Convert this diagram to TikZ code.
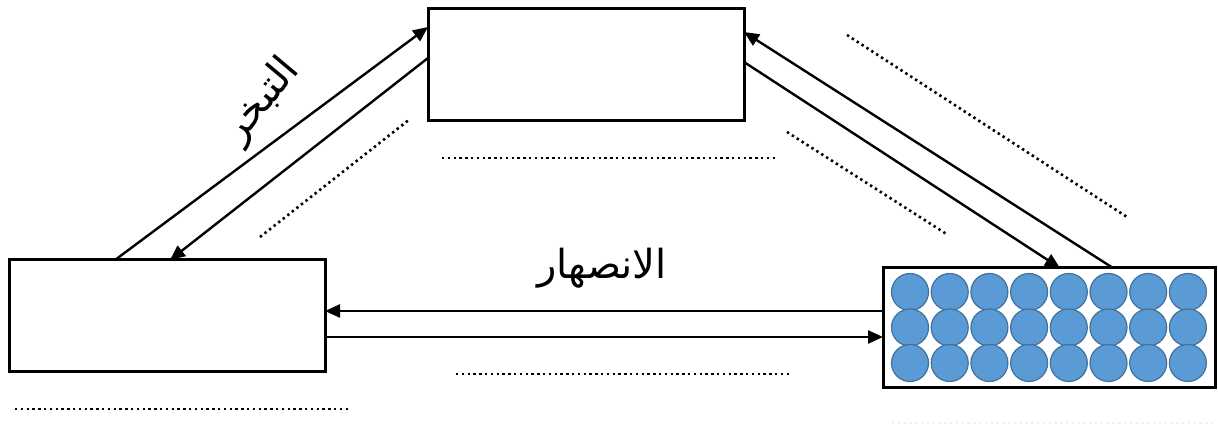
\documentclass[tikz,border=0pt]{standalone}
\usepackage{fontspec}
\newfontfamily\arabicfont[Script=Arabic]{DejaVu Sans}
\TeXXeTstate=1
\usetikzlibrary{arrows.meta}
\definecolor{ballfill}{HTML}{5B9BD5}
\definecolor{balledge}{HTML}{41719C}
\tikzset{
  box/.style={draw=black, line width=3pt, fill=white, inner sep=0pt, outer sep=0pt},
  conn/.style={line width=2.4pt, -{Triangle[length=15pt,width=13pt]}},
  dotline/.style={line width=2.6pt, dash pattern=on 2.4pt off 3.4pt},
  faintdot/.style={line width=2.6pt, dash pattern=on 2.4pt off 3.4pt, draw=black!6},
  ball/.style={fill=ballfill, draw=balledge, line width=1.2pt},
  lbl/.style={font=\arabicfont\fontsize{40}{44}\selectfont, inner sep=0pt}
}
\begin{document}
\begin{tikzpicture}[x=1pt,y=-1pt]
\useasboundingbox (0,0) rectangle (1218,427);
% boxes
\node[box, minimum width=316pt, minimum height=112pt] (top) at (586,65) {};
\node[box, minimum width=316pt, minimum height=112pt] (left) at (167,316) {};
\node[box, minimum width=332pt, minimum height=120pt] (right) at (1049,328) {};
% particles
\foreach \i in {0,...,7}{
  \foreach \j in {0,1,2}{
    \fill[ball] (910+39.7*\i, 292+35.5*\j) circle (18.5pt);
  }
}
% connectors
\draw[conn] ([xshift=106pt]left.north west) -- ([yshift=-18pt]top.north west);
\draw[conn] ([yshift=-49pt]top.north west) -- ([xshift=161pt]left.north west);
\draw[conn] ([xshift=230pt]right.north west) -- ([yshift=-23pt]top.north east);
\draw[conn] ([yshift=-53pt]top.north east) -- ([xshift=177pt]right.north west);
\draw[conn] ([yshift=-43pt]right.north west) -- ([yshift=-51pt]left.north east);
\draw[conn] ([yshift=-77pt]left.north east) -- ([yshift=-69pt]right.north west);
% labels
\node[lbl, rotate=50] (evap) at (262,101) {\beginR التبخر\endR};
\node[lbl] (melt) at (602,268) {\beginR الانصهار\endR};
% dotted answer lines
\draw[dotline] (15,409) -- (350,409);
\draw[dotline] (442,158) -- (778,158);
\draw[dotline] (456,374) -- (790,374);
\draw[dotline] (260,237) -- (410,119);
\draw[dotline] (787,132) -- (948,235);
\draw[dotline] (847,35) -- (1127,217);
\draw[faintdot] (892,423) -- (1216,423);
\end{tikzpicture}
\end{document}
